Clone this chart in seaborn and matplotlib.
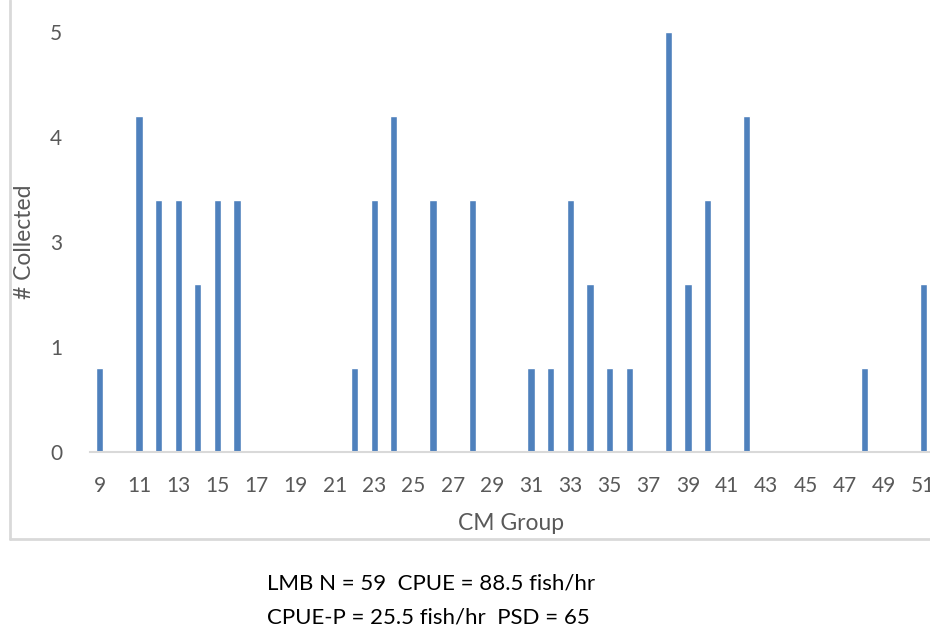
import matplotlib
matplotlib.use("Agg")
import matplotlib.pyplot as plt
import seaborn as sns
import pandas as pd
from matplotlib.lines import Line2D

# ---- data ----
cm_groups = [9, 11, 12, 13, 14, 15, 16, 22, 23, 24, 26, 28, 31, 32, 33, 34, 35, 36, 38, 39, 40, 42, 48, 51]
counts    = [1, 4, 3, 3, 2, 3, 3, 1, 3, 4, 3, 3, 1, 1, 3, 2, 1, 1, 5, 2, 3, 4, 1, 2]
x_tick_values = list(range(9, 52, 2))
x_tick_labels = [str(v) for v in x_tick_values]
y_tick_values = [0, 1.25, 2.5, 3.75, 5]
y_tick_labels = ["0", "1", "3", "4", "5"]
x_label = "CM Group"
y_label = "# Collected"
footer_lines = ["LMB N = 59  CPUE = 88.5 fish/hr", "CPUE-P = 25.5 fish/hr  PSD = 65"]

df = pd.DataFrame({"cm": cm_groups, "n": counts})

sns.set_style("white")
plt.rcParams["font.family"] = ["Lato", "DejaVu Sans"]

W, H = 930, 630
fig = plt.figure(figsize=(W / 100, H / 100), dpi=100)
ax = fig.add_axes([90 / W, (H - 452) / H, 843 / W, 420 / H])

bar_color = "#4F81BD"
grey_text = "#595959"
grey_line = "#D9D9D9"

sns.barplot(data=df, x="cm", y="n", native_scale=True, width=0.37,
            color=bar_color, saturation=1, ax=ax)

ax.set_xlim(8.5, 51.5)
ax.set_ylim(0, 5)
ax.set_xticks(x_tick_values)
ax.set_xticklabels(x_tick_labels)
ax.set_yticks(y_tick_values)
ax.set_yticklabels(y_tick_labels)
ax.tick_params(axis="both", length=0, labelsize=15, labelcolor=grey_text)
ax.tick_params(axis="x", pad=17)
ax.tick_params(axis="y", pad=20)

for s in ["top", "right", "left"]:
    ax.spines[s].set_visible(False)
ax.spines["bottom"].set_color(grey_line)
ax.spines["bottom"].set_linewidth(1.5)

ax.set_xlabel(x_label, fontsize=16.5, color=grey_text)
ax.set_ylabel(y_label, fontsize=16.5, color=grey_text)
ax.yaxis.set_label_coords((35 - 90) / 843, 0.5)
ax.xaxis.set_label_coords(0.5, -(513 - 452) / 420)

# chart-area border (left and bottom visible in crop)
fig.add_artist(Line2D([10 / W, 10 / W], [1, (H - 539) / H], transform=fig.transFigure,
                      color=grey_line, linewidth=2))
fig.add_artist(Line2D([10 / W, 1], [(H - 539) / H, (H - 539) / H], transform=fig.transFigure,
                      color=grey_line, linewidth=2))

for i, line in enumerate(footer_lines):
    fig.text(267 / W, (H - (583 + 34 * i)) / H, line, ha="left", va="center",
             fontsize=16, color="black")

fig.savefig("out.png", dpi=100)
